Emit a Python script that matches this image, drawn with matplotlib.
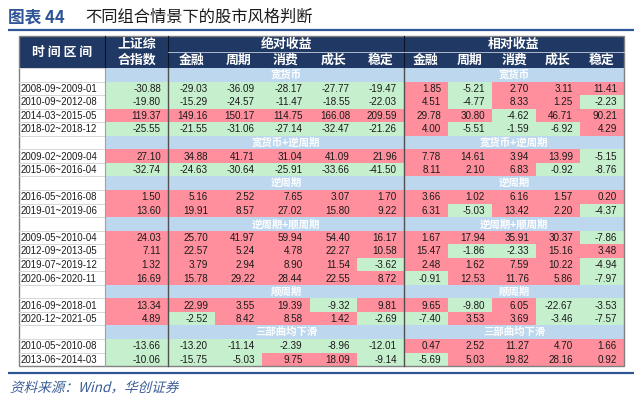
import matplotlib.pyplot as plt
from matplotlib.patches import Rectangle, PathPatch
from matplotlib.textpath import TextPath
from matplotlib.font_manager import FontProperties
from matplotlib.transforms import Affine2D

plt.rcParams['font.family'] = ['Noto Sans CJK SC', 'DejaVu Sans']

# ---- data ----
title_num = "图表 44"
title_text = "不同组合情景下的股市风格判断"
source_text = "资料来源：Wind，华创证券"

groups = ["金融", "周期", "消费", "成长", "稳定"]
sections = ["宽货币", "宽货币+逆周期", "逆周期", "逆周期+顺周期", "顺周期", "三部曲均下滑"]
section_sizes = [4, 2, 2, 4, 2, 2]

periods = ["2008-09~2009-01", "2010-09~2012-08", "2014-03~2015-05", "2018-02~2018-12",
           "2009-02~2009-04", "2015-06~2016-04",
           "2016-05~2016-08", "2019-01~2019-06",
           "2009-05~2010-04", "2012-09~2013-05", "2019-07~2019-12", "2020-06~2020-11",
           "2016-09~2018-01", "2020-12~2021-05",
           "2010-05~2010-08", "2013-06~2014-03"]

index_ret = [-30.88, -19.80, 119.37, -25.55,
             27.10, -32.74,
             1.50, 13.60,
             24.03, 7.11, 1.32, 16.69,
             13.34, 4.89,
             -13.66, -10.06]

abs_ret = [[-29.03, -36.09, -28.17, -27.77, -19.47],
           [-15.29, -24.57, -11.47, -18.55, -22.03],
           [149.16, 150.17, 114.75, 166.08, 209.59],
           [-21.55, -31.06, -27.14, -32.47, -21.26],
           [34.88, 41.71, 31.04, 41.09, 21.96],
           [-24.63, -30.64, -25.91, -33.66, -41.50],
           [5.16, 2.52, 7.65, 3.07, 1.70],
           [19.91, 8.57, 27.02, 15.80, 9.22],
           [25.70, 41.97, 59.94, 54.40, 16.17],
           [22.57, 5.24, 4.78, 22.27, 10.58],
           [3.79, 2.94, 8.90, 11.54, -3.62],
           [15.78, 29.22, 28.44, 22.55, 8.72],
           [22.99, 3.55, 19.39, -9.32, 9.81],
           [-2.52, 8.42, 8.58, 1.42, -2.69],
           [-13.20, -11.14, -2.39, -8.96, -12.01],
           [-15.75, -5.03, 9.75, 18.09, -9.14]]

rel_ret = [[1.85, -5.21, 2.70, 3.11, 11.41],
           [4.51, -4.77, 8.33, 1.25, -2.23],
           [29.78, 30.80, -4.62, 46.71, 90.21],
           [4.00, -5.51, -1.59, -6.92, 4.29],
           [7.78, 14.61, 3.94, 13.99, -5.15],
           [8.11, 2.10, 6.83, -0.92, -8.76],
           [3.66, 1.02, 6.16, 1.57, 0.20],
           [6.31, -5.03, 13.42, 2.20, -4.37],
           [1.67, 17.94, 35.91, 30.37, -7.86],
           [15.47, -1.86, -2.33, 15.16, 3.48],
           [2.48, 1.62, 7.59, 10.22, -4.94],
           [-0.91, 12.53, 11.76, 5.86, -7.97],
           [9.65, -9.80, 6.05, -22.67, -3.53],
           [-7.40, 3.53, 3.69, -3.46, -7.57],
           [0.47, 2.52, 11.27, 4.70, 1.66],
           [-5.69, 5.03, 19.82, 28.16, 0.92]]

# ---- style / layout ----
navy = "#203864"
blue_line = "#2F5597"
sec_blue = "#BDD7EE"
red = "#FF8F9C"
green = "#C6EFCE"
num_font = "Liberation Sans"

x_edges = [19, 105, 168, 215, 262, 309.5, 357, 404, 448, 492, 536, 580, 624]
top, h1, h2 = 36, 52, 68
row_h = 13.55

fig = plt.figure(figsize=(6.41, 4.07), dpi=100)
ax = fig.add_axes([0, 0, 1, 1])
ax.set_xlim(0, 641)
ax.set_ylim(407, 0)
ax.axis('off')

# title
ax.text(8, 17, title_num, color="#2F5597", fontsize=12, fontweight='bold', va='center')
ax.text(85, 17, title_text, color="#1a1a1a", fontsize=11.7, va='center')
ax.plot([8, 634], [29.5, 29.5], color=blue_line, lw=1.6, solid_capstyle='butt')

# header
ax.add_patch(Rectangle((x_edges[0], top), x_edges[-1] - x_edges[0], h2 - top, fc=navy, ec='none'))
for xe in [x_edges[1], x_edges[2], x_edges[7]]:
    ax.plot([xe, xe], [top, h2], color="#0b1426", lw=0.8)
ax.plot([x_edges[2], x_edges[-1]], [h1, h1], color="#c8d0e0", lw=0.6)
hkw = dict(color='white', fontsize=9.3, fontweight='bold', ha='center', va='center')
ax.text((x_edges[0] + x_edges[1]) / 2, (top + h2) / 2, "时 间 区 间", **hkw)
ax.text((x_edges[1] + x_edges[2]) / 2, (top + h1) / 2, "上证综", **hkw)
ax.text((x_edges[1] + x_edges[2]) / 2, (h1 + h2) / 2, "合指数", **hkw)
abs_c = (x_edges[2] + x_edges[7]) / 2
rel_c = (x_edges[7] + x_edges[12]) / 2
ax.text(abs_c, (top + h1) / 2, "绝对收益", **hkw)
ax.text(rel_c, (top + h1) / 2, "相对收益", **hkw)
for j, g in enumerate(groups):
    ax.text((x_edges[2 + j] + x_edges[3 + j]) / 2, (h1 + h2) / 2, g, **hkw)
    ax.text((x_edges[7 + j] + x_edges[8 + j]) / 2, (h1 + h2) / 2, g, **hkw)


def cell(x0, x1, y0, val):
    fc = red if val >= 0 else green
    ax.add_patch(Rectangle((x0, y0), x1 - x0, row_h, fc=fc, ec='none'))
    ax.text(x1 - 7, y0 + row_h / 2 + 0.5, f"{val:.2f}", family=num_font, fontsize=7.1,
            ha='right', va='center', color='#1a1a1a')


# body
r = 0
k = 0
for s, name in enumerate(sections):
    y0 = h2 + r * row_h
    ax.add_patch(Rectangle((x_edges[1], y0), x_edges[-1] - x_edges[1], row_h, fc=sec_blue, ec='none'))
    for cx in [abs_c, rel_c]:
        ax.text(cx, y0 + row_h / 2, name, color='white', fontsize=7.5, fontweight='bold',
                ha='center', va='center')
    ax.plot([x_edges[0], x_edges[1]], [y0, y0], color="#d0d0d0", lw=0.6)
    r += 1
    for _ in range(section_sizes[s]):
        y0 = h2 + r * row_h
        ax.plot([x_edges[0], x_edges[1]], [y0, y0], color="#d0d0d0", lw=0.6)
        ax.text(x_edges[0] + 2, y0 + row_h / 2 + 0.5, periods[k], family=num_font, fontsize=6.9,
                ha='left', va='center', color='#1a1a1a')
        cell(x_edges[1], x_edges[2], y0, index_ret[k])
        for j in range(5):
            cell(x_edges[2 + j], x_edges[3 + j], y0, abs_ret[k][j])
            cell(x_edges[7 + j], x_edges[8 + j], y0, rel_ret[k][j])
        k += 1
        r += 1

bottom = h2 + r * row_h
ax.plot([x_edges[1], x_edges[1]], [h2, bottom], color="#a0a0a0", lw=0.8)
for xe in [x_edges[2], x_edges[7]]:
    ax.plot([xe, xe], [h2, bottom], color="#505050", lw=1.0)
ax.add_patch(Rectangle((x_edges[0], top), x_edges[-1] - x_edges[0], bottom - top,
                       fc='none', ec="#808080", lw=1.0))

# footer
ax.plot([8, 634], [372.5, 372.5], color=blue_line, lw=1.6, solid_capstyle='butt')
tp = TextPath((0, 0), source_text, size=13.6, prop=FontProperties(family='Noto Sans CJK SC'))
tr = Affine2D().skew_deg(14, 0).scale(1, -1).translate(10, 392) + ax.transData
ax.add_patch(PathPatch(tp, transform=tr, fc="#3B5E96", ec='none'))

fig.savefig("out.png", dpi=100)
